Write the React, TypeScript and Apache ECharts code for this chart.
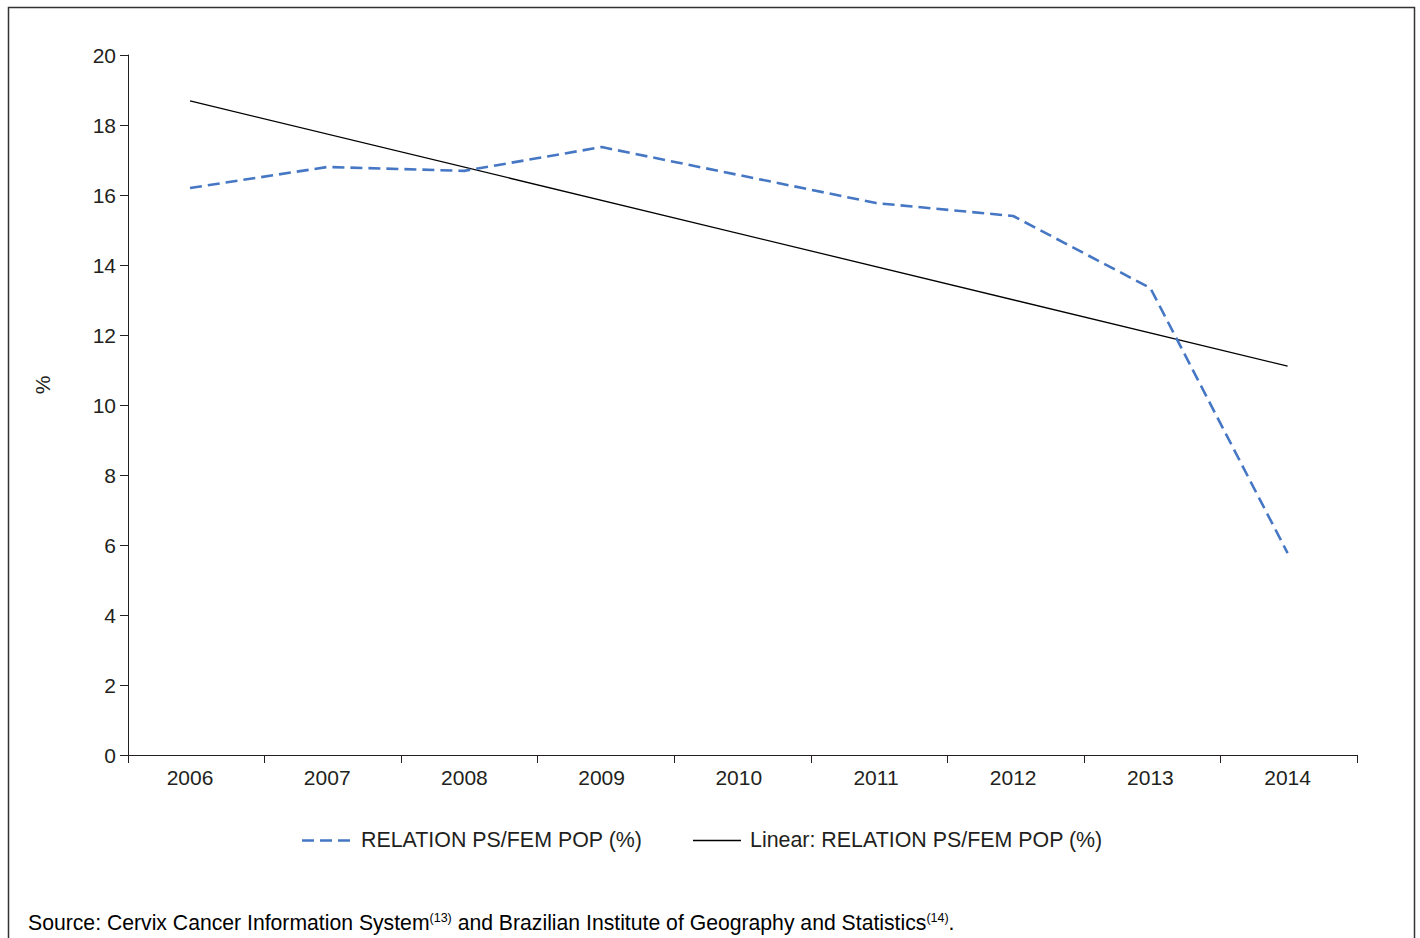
import React, { useEffect, useRef } from "react";
import * as echarts from "echarts";

const years = ["2006", "2007", "2008", "2009", "2010", "2011", "2012", "2013", "2014"];
const relationValues = [16.2, 16.8, 16.69, 17.37, 16.57, 15.77, 15.4, 13.34, 5.77];
// Linear trend endpoints (2006 and 2014); the line is drawn straight between them
const trendYears = [2006, 2014];
const trendValues = [18.69, 11.11];
const yTicks = [0, 2, 4, 6, 8, 10, 12, 14, 16, 18, 20];
const seriesName = "RELATION PS/FEM POP (%)";
const trendName = "Linear: RELATION PS/FEM POP (%)";

const FONT = "'Liberation Sans', Arial, sans-serif";
const TEXT = "#231f20";
const BLUE = "#4677c4";
const FS = 21;
const FS_LEGEND = 21.4;
const FS_SOURCE = 21.2;

export default function App() {
  const ref = useRef<HTMLDivElement>(null);

  useEffect(() => {
    if (!ref.current) return;
    const chart = echarts.init(ref.current, null, { renderer: "svg" });
    const yearNums = years.map(Number);
    chart.setOption({
      animation: false,
      backgroundColor: "#ffffff",
      textStyle: { fontFamily: FONT, color: TEXT },
      grid: { left: 128, right: 63, top: 55, bottom: 183, containLabel: false },
      xAxis: [
        {
          // category boundaries: axis line and tick marks between years
          type: "category",
          data: years,
          boundaryGap: true,
          position: "bottom",
          axisLine: { lineStyle: { color: TEXT, width: 1 } },
          axisTick: { show: true, length: 8, lineStyle: { color: TEXT } },
          axisLabel: { show: false },
          splitLine: { show: false },
        },
        {
          // year scale used by the lines and the year labels
          type: "value",
          position: "bottom",
          min: 2005.548,
          max: 2014.506,
          axisLine: { show: false },
          axisTick: { show: false },
          axisLabel: {
            color: TEXT,
            fontSize: FS,
            fontFamily: FONT,
            margin: 12,
            customValues: yearNums,
            formatter: (v: number) => String(Math.round(v)),
          },
          splitLine: { show: false },
        },
      ],
      yAxis: {
        type: "value",
        min: 0,
        max: 20,
        interval: 2,
        axisLine: { show: true, lineStyle: { color: TEXT, width: 1 } },
        axisTick: { show: true, length: 8, lineStyle: { color: TEXT } },
        axisLabel: {
          color: TEXT,
          fontSize: FS,
          fontFamily: FONT,
          margin: 12,
          customValues: yTicks,
        },
        splitLine: { show: false },
      },
      series: [
        {
          name: seriesName,
          type: "line",
          xAxisIndex: 1,
          data: yearNums.map((y, i) => [y, relationValues[i]]),
          symbol: "none",
          lineStyle: { color: BLUE, width: 2.6, type: [12, 6] },
          z: 3,
        },
        {
          name: trendName,
          type: "line",
          xAxisIndex: 1,
          data: trendYears.map((y, i) => [y, trendValues[i]]),
          symbol: "none",
          lineStyle: { color: "#000000", width: 1.3 },
          z: 2,
        },
      ],
      graphic: [
        {
          type: "rect",
          shape: { x: 8.5, y: 7.5, width: 1406, height: 960 },
          style: { fill: "none", stroke: "#333333", lineWidth: 1.5 },
          silent: true,
        },
        {
          type: "text",
          x: 42,
          y: 385,
          rotation: Math.PI / 2,
          style: {
            text: "%",
            fill: TEXT,
            font: `${FS}px ${FONT}`,
            textAlign: "center",
            textVerticalAlign: "middle",
          },
        },
        {
          type: "line",
          shape: { x1: 302, y1: 840.5, x2: 351, y2: 840.5 },
          style: { stroke: BLUE, lineWidth: 2.6, lineDash: [12, 6] },
        },
        {
          type: "text",
          x: 361,
          y: 840,
          style: { text: seriesName, fill: TEXT, font: `${FS_LEGEND}px ${FONT}`, textVerticalAlign: "middle" },
        },
        {
          type: "line",
          shape: { x1: 693, y1: 840.5, x2: 741, y2: 840.5 },
          style: { stroke: "#000000", lineWidth: 1.3 },
        },
        {
          type: "text",
          x: 750,
          y: 840,
          style: { text: trendName, fill: TEXT, font: `${FS_LEGEND}px ${FONT}`, textVerticalAlign: "middle" },
        },
        {
          type: "text",
          x: 28,
          y: 921,
          style: {
            text:
              "{a|Source: Cervix Cancer Information System}{s|(13)}{a| and Brazilian Institute of Geography and Statistics}{s|(14)}{a|.}",
            textVerticalAlign: "middle",
            rich: {
              a: { fontSize: FS_SOURCE, fontFamily: FONT, color: TEXT, lineHeight: 24, verticalAlign: "bottom" },
              s: { fontSize: 12.5, fontFamily: FONT, color: TEXT, lineHeight: 24, verticalAlign: "top", padding: [2, 0, 0, 0] },
            },
          },
        },
      ],
    });
    return () => chart.dispose();
  }, []);

  return (
    <div
      ref={ref}
      style={{ position: "fixed", left: 0, top: 0, width: 1420, height: 938, background: "#fff" }}
    />
  );
}
